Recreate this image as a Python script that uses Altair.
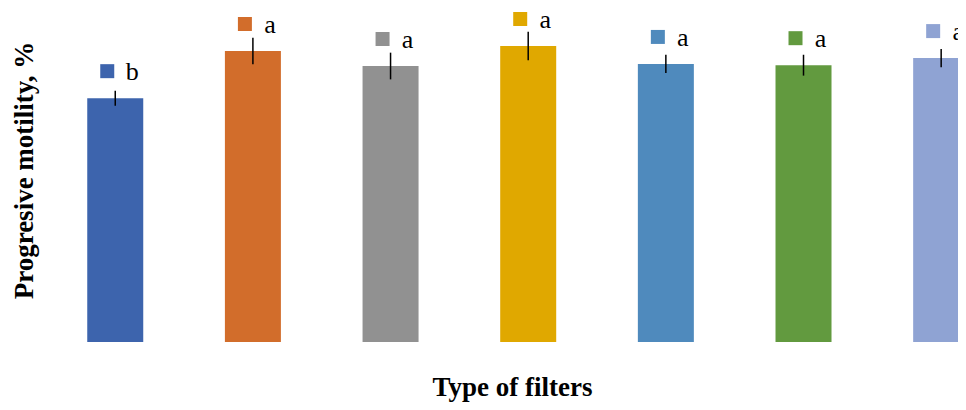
import altair as alt
import pandas as pd

# Data (no numeric axis is shown; values are estimates in %)
filters = ["F1", "F2", "F3", "F4", "F5", "F6", "F7"]
index = [0, 1, 2, 3, 4, 5, 6]
motility = [58.4, 69.7, 66.1, 70.9, 66.6, 66.3, 68.0]
error = [1.8, 3.2, 3.2, 3.4, 2.2, 2.5, 2.2]
letters = ["b", "a", "a", "a", "a", "a", "a"]
colors = ["#3D64AD", "#D26D2B", "#919191", "#E0A800", "#4F8ABD", "#629A3F", "#8FA3D3"]

df = pd.DataFrame({
    "filter": filters,
    "i": index,
    "mean": motility,
    "err": error,
    "letter": letters,
})
df["lo"] = df["mean"] - df["err"]
df["hi"] = df["mean"] + df["err"]

xscale = alt.Scale(domain=[-0.4958, 6.086], nice=False, zero=False)
yscale = alt.Scale(domain=[0, 78.56], nice=False, zero=True)
cscale = alt.Scale(domain=filters, range=colors)

x_enc = alt.X("i:Q", scale=xscale,
              axis=alt.Axis(title="Type of filters", labels=False, ticks=False, domain=False,
                            grid=False, titleFont="Liberation Serif", titleFontSize=27,
                            titleFontWeight="bold", titleColor="#000000",
                            titleX=470, titleY=53, titleBaseline="alphabetic",
                            titleAlign="center"))
y_enc = alt.Y("mean:Q", scale=yscale,
              axis=alt.Axis(title="Progresive motility, %", labels=False, ticks=False,
                            domain=False, grid=False, titleFont="Liberation Serif",
                            titleFontSize=27, titleFontWeight="bold", titleColor="#000000",
                            titleY=156, titlePadding=4))

base = alt.Chart(df)

bars = base.mark_bar(size=56, clip=True).encode(
    x=x_enc,
    y=y_enc,
    color=alt.Color("filter:N", scale=cscale, legend=None),
)

errs = base.mark_rule(color="#000000", strokeWidth=1.5).encode(
    x="i:Q",
    y="lo:Q",
    y2="hi:Q",
)

squares = base.mark_point(shape="square", filled=True, size=196, opacity=1,
                          xOffset=-8, yOffset=-27).encode(
    x="i:Q",
    y="mean:Q",
    color=alt.Color("filter:N", scale=cscale, legend=None),
)

texts = base.mark_text(font="Liberation Serif", fontSize=26, color="#000000",
                       align="center", baseline="alphabetic", dx=17, dy=-18).encode(
    x="i:Q",
    y="mean:Q",
    text="letter:N",
)

chart = alt.layer(bars, errs, squares, texts).properties(
    width=916,
    height=328,
    background="#ffffff",
    autosize=alt.AutoSizeParams(type="none"),
    padding={"left": 34, "top": 6, "right": 0, "bottom": 60},
).configure_view(stroke=None)

chart.save("out.html", embed_options={"renderer": "svg", "actions": False})
